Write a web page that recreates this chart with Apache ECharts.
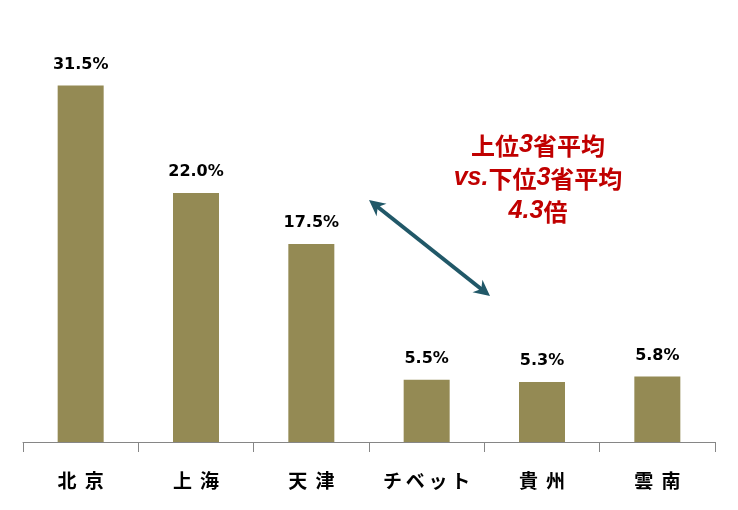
<!DOCTYPE html>
<html><head><meta charset="utf-8">
<script src="https://cdn.jsdelivr.net/npm/echarts@6/dist/echarts.min.js"></script>
<style>html,body{margin:0;padding:0;background:#fff}#c{width:738px;height:510px}</style>
</head><body><div id="c"></div>
<script>
const categories = ['北京', '上海', '天津', 'チベット', '貴州', '雲南'];
const values = [31.5, 22.0, 17.5, 5.5, 5.3, 5.8];

const chart = echarts.init(document.getElementById('c'), null, {renderer: 'canvas'});

// arrow geometry (annotation, not a data mark)
const A = [369, 200], B = [490, 296];
function head(tip, from) {
  const dx = tip[0] - from[0], dy = tip[1] - from[1];
  const L = Math.hypot(dx, dy), ux = dx / L, uy = dy / L;
  const len = 16, w = 8;
  const bx = tip[0] - ux * len, by = tip[1] - uy * len;
  return [[tip[0], tip[1]], [bx - uy * w, by + ux * w], [tip[0] - ux * len * 0.7, tip[1] - uy * len * 0.7], [bx + uy * w, by - ux * w]];
}
const dx = B[0] - A[0], dy = B[1] - A[1], L = Math.hypot(dx, dy);
const sA = [A[0] + dx / L * 8, A[1] + dy / L * 8], sB = [B[0] - dx / L * 8, B[1] - dy / L * 8];

const red = '#C00000';
chart.setOption({
  animation: false,
  grid: {left: 23, right: 23, top: 46, bottom: 68},
  xAxis: {
    type: 'category', data: categories,
    axisLine: {lineStyle: {color: '#868686', width: 1}},
    axisTick: {show: true, length: 10, lineStyle: {color: '#868686'}},
    axisLabel: {
      margin: 29, color: '#000', fontSize: 19, fontWeight: 'bold',
      fontFamily: 'Noto Sans CJK JP',
      formatter: v => v.length === 2 ? v.split('').join(' \u2009') : v.split('').join('\u2009')
    }
  },
  yAxis: {type: 'value', min: 0, max: 35, show: false, splitLine: {show: false}},
  series: [{
    type: 'bar', data: values, barWidth: 46,
    itemStyle: {color: '#948A54'},
    label: {
      show: true, position: 'top', distance: 13,
      formatter: p => p.value.toFixed(1) + '%',
      color: '#000', fontSize: 16, fontWeight: 'bold', fontFamily: 'DejaVu Sans'
    }
  }],
  graphic: [
    {type: 'line', shape: {x1: sA[0], y1: sA[1], x2: sB[0], y2: sB[1]}, style: {stroke: '#215868', lineWidth: 4}},
    {type: 'polygon', shape: {points: head(A, B)}, style: {fill: '#215868'}},
    {type: 'polygon', shape: {points: head(B, A)}, style: {fill: '#215868'}},
    {
      type: 'text', x: 538, y: 129,
      style: {
        align: 'center', verticalAlign: 'top',
        text: '{c|上位}{i|3}{c|省平均}\n{i|vs.}{c|下位}{i|3}{c|省平均}\n{i|4.3}{c|倍}',
        rich: {
          c: {fontFamily: 'Noto Sans CJK JP', fontWeight: 'bold', fontSize: 24, fill: red, lineHeight: 33, align: 'center'},
          i: {fontFamily: 'Liberation Sans', fontWeight: 'bold', fontStyle: 'italic', fontSize: 25, fill: red, lineHeight: 33, align: 'center'}
        }
      }
    }
  ]
});
</script></body></html>
